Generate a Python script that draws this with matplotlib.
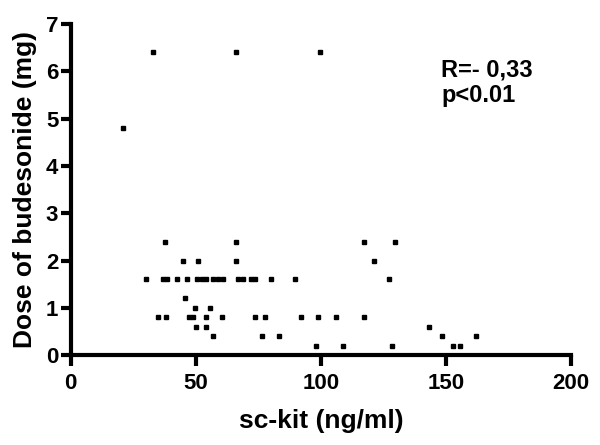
import matplotlib.pyplot as plt

plt.rcParams['font.family'] = ['Liberation Sans', 'DejaVu Sans']
plt.rcParams['font.weight'] = 'bold'

# sc-kit (ng/ml) vs dose of budesonide (mg)
sckit = [33, 66, 99.5, 21,
         37.5, 66, 117, 129.5,
         45, 51, 66, 121,
         30, 37, 38.5, 42.5, 46.3, 50.3, 52.3, 54.2, 57, 58.8, 60.8,
         66.7, 68.7, 72, 73.6, 80, 89.7, 127,
         45.7, 49.7, 55.5,
         34.7, 37.9, 47.3, 49, 54, 60.3, 73.7, 77.7, 92, 99, 106, 117,
         50, 54, 143,
         56.8, 76.5, 83.3, 148.4, 162,
         98, 108.7, 128.5, 152.9, 155.6]
dose = [6.4, 6.4, 6.4, 4.8,
        2.4, 2.4, 2.4, 2.4,
        2.0, 2.0, 2.0, 2.0,
        1.6, 1.6, 1.6, 1.6, 1.6, 1.6, 1.6, 1.6, 1.6, 1.6, 1.6,
        1.6, 1.6, 1.6, 1.6, 1.6, 1.6, 1.6,
        1.2, 1.0, 1.0,
        0.8, 0.8, 0.8, 0.8, 0.8, 0.8, 0.8, 0.8, 0.8, 0.8, 0.8, 0.8,
        0.6, 0.6, 0.6,
        0.4, 0.4, 0.4, 0.4, 0.4,
        0.2, 0.2, 0.2, 0.2, 0.2]

fig = plt.figure(figsize=(6, 4.45), dpi=100)
ax = fig.add_axes([0.118, 0.202, 0.834, 0.744])

ax.plot(sckit, dose, ls='none', marker='s', ms=3.4, color='black', clip_on=False)

ax.set_xlim(0, 200)
ax.set_ylim(0, 7)
ax.set_xticks([0, 50, 100, 150, 200])
ax.set_yticks(range(8))

for s in ['top', 'right']:
    ax.spines[s].set_visible(False)
for s in ['left', 'bottom']:
    ax.spines[s].set_linewidth(3)
ax.tick_params(width=3, length=7, labelsize=16, pad=2)
ax.tick_params(axis='x', length=8, pad=5)
for lab in ax.get_xticklabels() + ax.get_yticklabels():
    lab.set_fontweight('bold')

ax.set_xlabel('sc-kit (ng/ml)', fontsize=19, fontweight='bold', labelpad=11)
ax.set_ylabel('Dose of budesonide (mg)', fontsize=19, fontweight='bold', labelpad=6)

ax.text(0.74, 0.895, 'R=- 0,33\np<0.01', transform=ax.transAxes, fontsize=17,
        fontweight='bold', va='top', ha='left', linespacing=1.15)

fig.savefig('out.png', dpi=100)
